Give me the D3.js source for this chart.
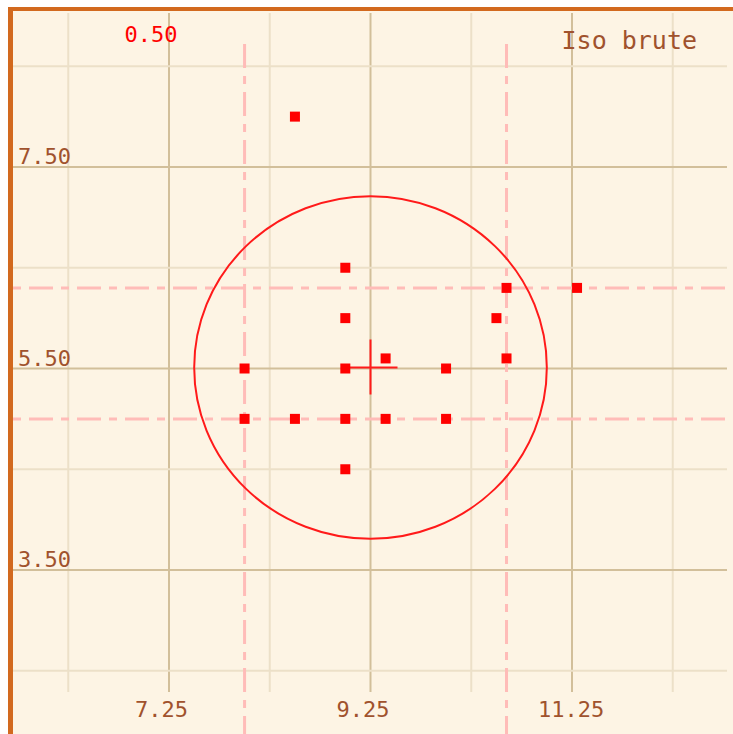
<!DOCTYPE html>
<html>
<head>
<meta charset="utf-8">
<script src="https://cdn.jsdelivr.net/npm/d3@7"></script>
<style>
  body { margin: 0; background: #fff; }
  text { font-family: "DejaVu Sans Mono", monospace; }
</style>
</head>
<body>
<div id="chart"></div>
<script>
// chart values
var gridX = [6.25, 7.25, 8.25, 9.25, 10.25, 11.25, 12.25];
var gridY = [8.5, 7.5, 6.5, 5.5, 4.5, 3.5, 2.5];
var tickX = [7.25, 9.25, 11.25];
var tickY = [7.5, 5.5, 3.5];
var pointsX = [8.5, 9.0, 9.0, 8.0, 9.0, 9.4, 10.0, 8.0, 8.5, 9.0, 9.4, 10.0, 9.0, 10.6, 11.3, 10.5, 10.6];
var pointsY = [8.0, 6.5, 6.0, 5.5, 5.5, 5.6, 5.5, 5.0, 5.0, 5.0, 5.0, 5.0, 4.5, 6.3, 6.3, 6.0, 5.6];
var limitsX = [8.0, 10.6];
var limitsY = [6.3, 5.0];
var centre = [9.25, 5.51];
var radius = [1.75, 1.7];
var valueLabel = "0.50";
var title = "Iso brute";

var svgWidth = 733;
var svgHeight = 734;

var svg = d3.select("#chart").append("svg")
    .attr("width", svgWidth)
    .attr("height", svgHeight);

var xScale = d3.scaleLinear().domain([7.25, 11.25]).range([169, 572]);
var yScale = d3.scaleLinear().domain([7.5, 3.5]).range([167, 570]);

// panel + orange border (left and top only)
svg.append("rect")
    .attr("x", 8).attr("y", 7)
    .attr("width", svgWidth - 8).attr("height", svgHeight - 7)
    .attr("fill", "#d2691e");
svg.append("rect")
    .attr("x", 13).attr("y", 11)
    .attr("width", svgWidth - 13).attr("height", svgHeight - 11)
    .attr("fill", "#fdf4e4");

// grid
svg.selectAll("line.gx")
    .data(gridX)
    .enter()
    .append("line")
    .attr("class", "gx")
    .attr("x1", function(d) { return xScale(d); })
    .attr("x2", function(d) { return xScale(d); })
    .attr("y1", 13)
    .attr("y2", 692)
    .attr("stroke", function(d) { return tickX.indexOf(d) >= 0 ? "#d2bf9a" : "#ece0c8"; })
    .attr("stroke-width", 2);

svg.selectAll("line.gy")
    .data(gridY)
    .enter()
    .append("line")
    .attr("class", "gy")
    .attr("y1", function(d) { return yScale(d); })
    .attr("y2", function(d) { return yScale(d); })
    .attr("x1", 13)
    .attr("x2", 727)
    .attr("stroke", function(d) { return tickY.indexOf(d) >= 0 ? "#d2bf9a" : "#ece0c8"; })
    .attr("stroke-width", 2);

// limit lines, dash-dot
svg.selectAll("line.lx")
    .data(limitsX)
    .enter()
    .append("line")
    .attr("class", "lx")
    .attr("x1", function(d) { return xScale(d); })
    .attr("x2", function(d) { return xScale(d); })
    .attr("y1", 44)
    .attr("y2", svgHeight)
    .attr("stroke", "#ffbcb8")
    .attr("stroke-width", 3)
    .attr("stroke-dasharray", "24,8,8,8");

svg.selectAll("line.ly")
    .data(limitsY)
    .enter()
    .append("line")
    .attr("class", "ly")
    .attr("y1", function(d) { return yScale(d); })
    .attr("y2", function(d) { return yScale(d); })
    .attr("x1", 13)
    .attr("x2", svgWidth)
    .attr("stroke", "#ffbcb8")
    .attr("stroke-width", 3)
    .attr("stroke-dasharray", "8,8,24,8");

// tolerance ellipse
svg.append("ellipse")
    .attr("cx", xScale(centre[0]))
    .attr("cy", yScale(centre[1]))
    .attr("rx", xScale(centre[0] + radius[0]) - xScale(centre[0]))
    .attr("ry", yScale(centre[1] - radius[1]) - yScale(centre[1]))
    .attr("fill", "none")
    .attr("stroke", "#ff1a1a")
    .attr("stroke-width", 2);

// centre cross
var cx = xScale(centre[0]), cy = yScale(centre[1]);
svg.append("line")
    .attr("x1", cx).attr("x2", cx)
    .attr("y1", cy - 28).attr("y2", cy + 27)
    .attr("stroke", "#ff1a1a").attr("stroke-width", 2);
svg.append("line")
    .attr("x1", cx - 26).attr("x2", cx + 27)
    .attr("y1", cy).attr("y2", cy)
    .attr("stroke", "#ff1a1a").attr("stroke-width", 2);

// measured points
svg.selectAll("rect.pt")
    .data(pointsX)
    .enter()
    .append("rect")
    .attr("class", "pt")
    .attr("x", function(d) { return xScale(d) - 5; })
    .attr("y", function(d, i) { return yScale(pointsY[i]) - 5; })
    .attr("width", 10)
    .attr("height", 10)
    .attr("fill", "#ff0000");

// tick labels
svg.selectAll("text.tx")
    .data(tickX)
    .enter()
    .append("text")
    .attr("class", "tx")
    .attr("x", function(d) { return xScale(d) - 34; })
    .attr("y", 717)
    .attr("fill", "#a0522d")
    .style("font-size", "22px")
    .text(function(d) { return d.toFixed(2); });

svg.selectAll("text.ty")
    .data(tickY)
    .enter()
    .append("text")
    .attr("class", "ty")
    .attr("x", 18)
    .attr("y", function(d) { return yScale(d) - 3; })
    .attr("fill", "#a0522d")
    .style("font-size", "22px")
    .text(function(d) { return d.toFixed(2); });

svg.append("text")
    .attr("x", 151)
    .attr("y", 42)
    .attr("text-anchor", "middle")
    .attr("fill", "#ff0000")
    .style("font-size", "22px")
    .text(valueLabel);

svg.append("text")
    .attr("x", 697)
    .attr("y", 49)
    .attr("text-anchor", "end")
    .attr("fill", "#a0522d")
    .style("font-size", "25px")
    .text(title);
</script>
</body>
</html>
